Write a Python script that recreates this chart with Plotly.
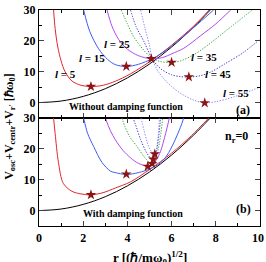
import plotly.graph_objects as go

# ---------------- data ----------------
# panel (a): without damping function
r_l0 = [0, 1, 2, 3, 4, 5, 6, 7, 7.75]
v_l0 = [0, 0.5, 2, 4.5, 8, 12.5, 18, 24.5, 30]

a_r_l5 = [0.66, 0.73, 0.85, 1.0, 1.18, 1.49, 1.9, 2.35, 2.9, 3.45, 4.14, 5.12, 6.0, 7.0, 7.7]
a_v_l5 = [30, 24, 18, 13.5, 10.0, 7.0, 5.6, 5.2, 5.6, 6.9, 9.3, 13.8, 18.6, 24.8, 30]
a_r_l15 = [2.02, 2.3, 2.7, 3.1, 3.45, 3.95, 4.5, 5.12, 5.6, 6.2, 7.0, 7.9]
a_v_l15 = [30, 23, 17.4, 14.0, 12.3, 11.7, 12.4, 14.2, 16.2, 19.5, 24.3, 30]
a_r_l25 = [3.08, 3.3, 3.6, 4.0, 4.5, 5.08, 5.6, 6.0, 6.55, 7.3, 8.0, 8.67]
a_v_l25 = [30, 24.8, 20.5, 17.3, 15.2, 14.2, 14.6, 15.8, 17.6, 21.6, 25.5, 30]
a_r_l35 = [3.72, 4.0, 4.27, 4.7, 5.12, 5.5, 6.0, 6.4, 7.0, 7.6, 8.5, 9.65]
a_v_l35 = [30, 25.5, 21.5, 17.3, 14.3, 13.3, 13.0, 13.5, 15.5, 18.4, 23.5, 30]
a_r_l45 = [4.14, 4.4, 4.74, 5.12, 5.5, 6.0, 6.4, 6.8, 7.3, 7.8, 8.4, 9.2, 10.0]
a_v_l45 = [30, 24.5, 19.9, 14.2, 11.0, 9.0, 8.4, 8.3, 8.7, 10.0, 12.5, 16.0, 20.5]
a_r_l55 = [4.6, 4.8, 5.0, 5.12, 5.4, 5.7, 6.0, 6.5, 7.0, 7.5, 8.0, 8.8, 10.0]
a_v_l55 = [30, 24, 18.5, 14.2, 10.0, 7.3, 5.2, 2.6, 0.8, -0.1, 0.3, 1.8, 5.0]
a_star_r = [2.35, 3.95, 5.08, 6.0, 6.78, 7.5]
a_star_v = [5.2, 11.7, 14.2, 13.0, 8.3, -0.1]

# panel (b): with damping function
b_r_l5 = [0.66, 0.73, 0.88, 1.1, 1.49, 1.9, 2.35, 2.9, 3.45, 4.14, 5.0, 6.0, 6.9, 7.68]
b_v_l5 = [30, 25, 15.6, 8.8, 6.25, 5.4, 5.1, 5.8, 7.3, 9.3, 13.3, 18.6, 24.3, 30]
b_r_l15 = [2.02, 2.2, 2.47, 2.85, 3.23, 3.45, 3.95, 4.5, 5.05, 5.5, 5.8, 6.1, 6.4, 6.55]
b_v_l15 = [30, 25, 20.8, 15.6, 12.8, 12.3, 11.7, 12.3, 13.6, 15.5, 18, 22, 27, 30]
b_r_l25 = [3.0, 3.23, 3.45, 3.8, 4.14, 4.5, 4.9, 5.1, 5.3, 5.5, 5.73, 5.9]
b_v_l25 = [30, 25.9, 23, 19.5, 17.1, 15.3, 14.4, 14.8, 16.3, 19.2, 25, 30]
b_r_l35 = [3.75, 3.9, 4.1, 4.44, 4.75, 5.0, 5.12, 5.3, 5.45, 5.6]
b_v_l35 = [30, 27, 24, 20.7, 17.5, 15.6, 15.3, 17.5, 22, 30]
b_r_l45 = [4.2, 4.36, 4.6, 4.85, 5.05, 5.17, 5.3, 5.4, 5.5]
b_v_l45 = [31, 28, 23, 19, 17, 16.6, 19, 23, 30]
b_r_l55 = [4.62, 4.75, 4.95, 5.1, 5.24, 5.32, 5.39, 5.45]
b_v_l55 = [30, 26, 21, 19, 18.3, 20, 24, 30]
b_star_r = [2.35, 3.95, 4.92, 5.12, 5.17, 5.24]
b_star_v = [5.1, 11.8, 14.3, 15.2, 16.6, 18.3]

x_ticks = [0, 2, 4, 6, 8, 10]
x_tick_text = ["0", "2", "4", "6", "8", ""]   # "10" is drawn separately (it runs off the right edge)
y_ticks = [0, 10, 20, 30]
l_labels = ["5", "15", "25", "35", "45", "55"]

# ---------------- figure ----------------
styles = [
    ("#e3262b", "solid"),
    ("#3d5cf5", "solid"),
    ("#b347f2", "solid"),
    ("#2fa836", "1.3px,1.5px"),
    ("#3737d0", "1.3px,1.5px"),
    ("#8a80f5", "1.3px,1.5px"),
]
fig = go.Figure()

def add_panel(curves, star_r, star_v, xa, ya):
    fig.add_trace(go.Scatter(x=r_l0, y=v_l0, mode="lines", line=dict(color="black", width=1.0, shape="spline"),
                             xaxis=xa, yaxis=ya, showlegend=False))
    for (rr, vv), (col, dash) in zip(curves, styles):
        fig.add_trace(go.Scatter(x=rr, y=vv, mode="lines",
                                 line=dict(color=col, width=1.0, dash=dash, shape="spline", smoothing=0.9),
                                 xaxis=xa, yaxis=ya, showlegend=False))
    fig.add_trace(go.Scatter(x=star_r, y=star_v, mode="markers",
                             marker=dict(symbol="star", size=8, color="#8b1515", line=dict(width=0)),
                             xaxis=xa, yaxis=ya, showlegend=False))

add_panel([(a_r_l5, a_v_l5), (a_r_l15, a_v_l15), (a_r_l25, a_v_l25),
           (a_r_l35, a_v_l35), (a_r_l45, a_v_l45), (a_r_l55, a_v_l55)],
          a_star_r, a_star_v, "x", "y")
add_panel([(b_r_l5, b_v_l5), (b_r_l15, b_v_l15), (b_r_l25, b_v_l25),
           (b_r_l35, b_v_l35), (b_r_l45, b_v_l45), (b_r_l55, b_v_l55)],
          b_star_r, b_star_v, "x2", "y2")

tickfont = dict(family="Liberation Serif", size=12, color="black")
common_x = dict(range=[0, 10], tickvals=x_ticks, ticktext=["<b>" + t + "</b>" for t in x_tick_text],
                ticks="inside", ticklen=5, tickwidth=1.2,
                showline=True, linecolor="black", linewidth=1.3, mirror="ticks",
                minor=dict(dtick=1, ticks="inside", ticklen=3, tickwidth=1.1, tickcolor="black"),
                showgrid=False, zeroline=False, tickfont=tickfont)
common_y = dict(range=[-5, 30], tickvals=y_ticks, ticktext=["<b>%d</b>" % v for v in y_ticks],
                ticks="inside", ticklen=5, tickwidth=1.2,
                showline=True, linecolor="black", linewidth=1.3, mirror="ticks",
                minor=dict(dtick=5, ticks="inside", ticklen=3, tickwidth=1.1, tickcolor="black"),
                showgrid=False, zeroline=False, tickfont=tickfont)

fig.update_layout(
    width=266, height=262,
    margin=dict(l=39, r=6, t=3, b=36),
    plot_bgcolor="white", paper_bgcolor="white",
    xaxis=dict(**common_x, anchor="y", showticklabels=False),
    yaxis=dict(**common_y, domain=[0.5, 1], anchor="x"),
    xaxis2=dict(**common_x, anchor="y2", matches="x"),
    yaxis2=dict(**common_y, domain=[0, 0.5], anchor="x2"),
    font=dict(family="Liberation Serif", color="black"),
)

ann_font = dict(family="Liberation Serif", size=11, color="black")
lab_pos = [(1.18, 9.4), (2.4, 14.4), (3.55, 19.0), (7.45, 14.7), (8.1, 9.4), (8.9, 3.1)]
for (lx, ly), lt in zip(lab_pos, l_labels):
    fig.add_annotation(x=lx, y=ly, xref="x", yref="y", text="<b><i>l</i> = " + lt + "</b>",
                       showarrow=False, font=ann_font)
fig.add_annotation(x=3.95, y=-1.4, xref="x", yref="y", text="<b>Without damping function</b>",
                   showarrow=False, font=dict(family="Liberation Serif", size=10, color="black"))
fig.add_annotation(x=9.25, y=-2.5, xref="x", yref="y", text="<b>(a)</b>", showarrow=False,
                   font=dict(family="Liberation Serif", size=12, color="black"))
fig.add_annotation(x=4.25, y=-1.0, xref="x2", yref="y2", text="<b>With damping function</b>",
                   showarrow=False, font=dict(family="Liberation Serif", size=10, color="black"))
fig.add_annotation(x=9.25, y=0.6, xref="x2", yref="y2", text="<b>(b)</b>", showarrow=False,
                   font=dict(family="Liberation Serif", size=12, color="black"))
fig.add_annotation(x=8.95, y=24, xref="x2", yref="y2", text="<b>n<sub>r</sub>=0</b>", showarrow=False,
                   font=dict(family="Liberation Serif", size=12, color="black"))
# "10" tick label at the right end of the bottom axis (ends at the figure's right edge)
fig.add_annotation(x=1.0, y=0, xref="paper", yref="paper", xanchor="right", yanchor="top",
                   xshift=6, yshift=-3, text="<b>10</b>", showarrow=False,
                   font=dict(family="Liberation Serif", size=12, color="black"))
fig.add_annotation(x=-0.135, y=0.46, xref="paper", yref="paper", xanchor="center", yanchor="middle",
                   text="<b>V<sub>osc</sub>+V<sub>centr</sub>+V<sub>r'</sub> [ℏω<sub>0</sub>]</b>",
                   textangle=-90, showarrow=False,
                   font=dict(family="Liberation Serif", size=12, color="black"))
fig.add_annotation(x=0.5, y=-0.148, xref="paper", yref="paper", xanchor="center", yanchor="middle",
                   text="<b>r [(ℏ/mω<sub>0</sub>)<sup>1/2</sup>]</b>", showarrow=False,
                   font=dict(family="Liberation Serif", size=13, color="black"))

# remove the browser's default 8px page margin so the figure sits at the window's corner
fig.write_html("out.html", config={"displayModeBar": False},
               post_script="document.body.style.margin='0px';")
